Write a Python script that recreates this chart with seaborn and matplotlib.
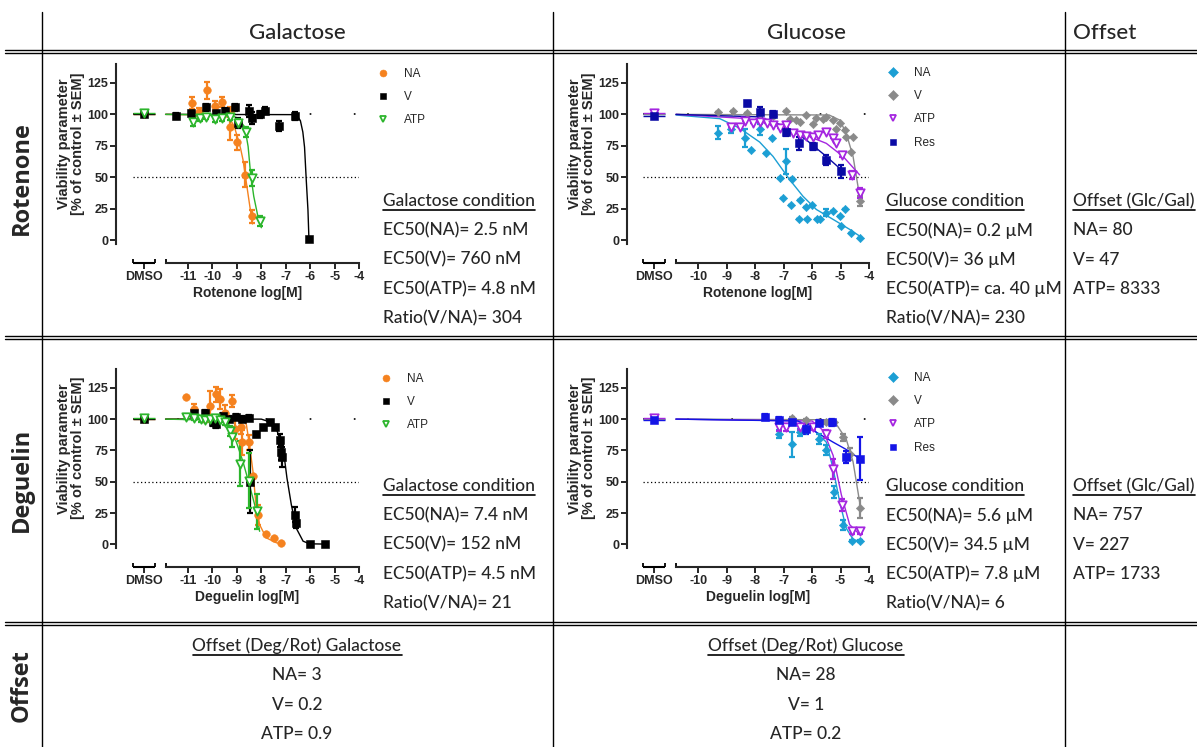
import matplotlib
matplotlib.use("Agg")
import matplotlib.pyplot as plt
from matplotlib.lines import Line2D
import seaborn as sns

W, H = 1197, 747

# ---------------- data ----------------
# Galactose / Rotenone
gr_na_x = [-10.82, -10.55, -10.22, -9.88, -9.6, -9.3, -9.3, -8.98, -8.65, -8.4]
gr_na_y = [109, 102, 119, 107, 110, 103, 90, 78, 52, 19]
gr_na_err = [5, 3, 7, 4, 4, 3, 10, 6, 10, 5]
gr_na_fit_x = [-11.92, -9.6, -9.3, -9.1, -8.98, -8.85, -8.75, -8.61, -8.47, -8.36]
gr_na_fit_y = [100, 99.5, 97, 90, 82, 73, 64, 45.5, 27, 13]
gr_v_x = [-11.5, -10.86, -10.28, -9.84, -9.5, -9.09, -8.95, -8.5, -8.4, -8.07, -7.86, -7.28, -6.63, -6.05]
gr_v_y = [98.7, 101, 105.5, 101, 103, 105.5, 93, 102.6, 97, 100, 103, 91, 98.7, 0.8]
gr_v_err = [2, 2, 3, 2, 2, 3, 4, 5, 5, 3, 3, 4, 3, 0]
gr_v_fit_x = [-11.92, -6.7, -6.5, -6.4, -6.3, -6.23, -6.16, -6.09, -6.05]
gr_v_fit_y = [100, 99.8, 98, 95, 86, 74, 48, 24, 1]
gr_atp_x = [-10.8, -10.52, -10.25, -9.91, -9.6, -9.3, -8.95, -8.64, -8.37, -8.07]
gr_atp_y = [94, 97, 98, 96, 97, 97.6, 93, 86, 49.5, 15]
gr_atp_err = [3, 2, 2, 2, 2, 2, 3, 4, 6, 4]
gr_atp_fit_x = [-11.92, -9.3, -8.95, -8.68, -8.54, -8.44, -8.31, -8.14, -8.0]
gr_atp_fit_y = [100, 99.5, 97, 90, 74.5, 53, 35, 19, 10]

# Glucose / Rotenone
cr_na_x = [-9.3, -8.83, -8.34, -8.13, -7.84, -7.63, -7.39, -7.13, -7.02, -6.9, -6.73, -6.69, -6.46,
           -6.43, -6.2, -6.17, -5.99, -5.82, -5.73, -5.52, -5.26, -5.03, -4.97, -4.85, -4.62, -4.33]
cr_na_y = [85.5, 88, 81, 72, 88, 69, 81.5, 49.5, 33.7, 62.6, 28.4, 48.7, 17,
           32, 26.6, 17, 28.4, 17, 17, 22, 23, 19.7, 11.3, 25, 6, 2]
cr_na_err = [5, 3, 7, 0, 4, 0, 0, 0, 0, 10, 0, 0, 0,
             0, 0, 0, 0, 0, 0, 3, 0, 0, 0, 0, 0, 0]
cr_na_fit_x = [-10.78, -9.24, -8.54, -7.84, -7.37, -6.78, -6.32, -5.85, -5.26, -4.68, -4.33]
cr_na_fit_y = [99.5, 96.6, 89, 78, 66.6, 48, 35, 24.5, 16.6, 8.7, 3.4]
cr_v_x = [-9.3, -8.77, -8.3, -7.84, -7.37, -6.9, -6.78, -6.55, -6.43, -6.2, -5.96, -5.85, -5.61,
          -5.5, -5.26, -5.15, -5.03, -4.85, -4.8, -4.62, -4.56, -4.33]
cr_v_y = [102, 103, 101, 100, 98.7, 103, 96, 95.5, 94, 99.5, 92, 97, 96,
          98, 95.5, 88, 93, 87.6, 82, 70.5, 82, 31]
cr_v_err = [0] * 21 + [4]
cr_v_fit_x = [-10.78, -5.4, -5.03, -4.8, -4.56, -4.33]
cr_v_fit_y = [100, 99.5, 95.5, 85, 66.6, 35]
cr_atp_x = [-8.83, -8.54, -8.34, -8.07, -7.84, -7.6, -7.37, -7.13, -6.9, -6.67, -6.43, -6.2, -5.96,
            -5.79, -5.5, -5.26, -5.15, -4.94, -4.58, -4.33]
cr_atp_y = [90, 90, 95, 93, 94, 93.4, 91.6, 89, 91.6, 85, 83.7, 83, 82,
            83.7, 86, 81, 77, 68, 52, 37.6]
cr_atp_err = [0] * 17 + [2, 3, 4]
cr_atp_fit_x = [-10.78, -8.5, -7.84, -6.67, -5.5, -4.91, -4.33]
cr_atp_fit_y = [100, 97, 94, 87.6, 77, 66.6, 52]
cr_res_x = [-8.3, -7.84, -7.37, -6.9, -6.46, -5.96, -5.5, -4.97]
cr_res_y = [108.7, 102, 100, 86, 77, 74.5, 64, 54.7]
cr_res_err = [2, 4, 3, 3, 5, 3, 4, 5]
cr_res_fit_x = [-10.78, -7.84, -6.9, -6.2, -5.5, -4.97]
cr_res_fit_y = [100, 98, 90, 79.7, 66.6, 56]

# Galactose / Deguelin
gd_na_x = [-11.1, -10.77, -10.32, -10.11, -9.84, -9.68, -9.5, -9.19, -9.09, -8.82, -8.78, -8.5,
           -8.34, -8.14, -7.82, -7.49, -7.18]
gd_na_y = [118, 108.4, 100, 110.5, 120, 116, 105, 114.5, 92, 93.4, 81.6, 81.6,
           55, 23.7, 8.4, 5.3, 1.3]
gd_na_err = [0, 4, 0, 12, 6, 8, 6, 5, 8, 5, 10, 6, 0, 8, 0, 0, 0]
gd_na_fit_x = [-11.92, -8.75, -8.61, -8.48, -8.34, -8.23, -8.07, -7.8, -7.38, -7.1]
gd_na_fit_y = [100, 99.5, 95.5, 79, 58, 34, 15.8, 5.3, 1.3, 0.5]
gd_v_x = [-10.77, -10.32, -9.98, -9.84, -9.57, -9.32, -9.02, -8.78, -8.5, -8.48, -8.2, -7.93,
          -7.66, -7.45, -7.25, -7.18, -7.14, -6.63, -6.59, -6.02, -5.41]
gd_v_y = [104.7, 105, 97.4, 96, 102.6, 100.5, 102, 100.5, 101, 50, 88, 93.4,
          97.4, 93.4, 83, 73.7, 70, 23.7, 17, 0.5, 0.5]
gd_v_err = [2, 2, 3, 3, 2, 2, 2, 2, 2, 25, 2, 2, 2, 2, 5, 6, 8, 6, 4, 0, 0]
gd_v_fit_x = [-11.92, -8.0, -7.8, -7.38, -7.1, -6.95, -6.77, -6.57, -6.29, -6.02, -5.41]
gd_v_fit_y = [100, 100, 98.7, 92, 76, 53, 31.6, 13, 2.6, 0.5, 0.3]
gd_atp_x = [-11.1, -10.77, -10.45, -10.32, -10.11, -9.88, -9.7, -9.5, -9.3, -9.19, -8.88, -8.5, -8.18]
gd_atp_y = [102, 101, 100, 99.5, 100, 101, 99.5, 97.4, 90.8, 85.5, 64.5, 51, 26.3]
gd_atp_err = [2, 2, 2, 2, 2, 2, 2, 2, 4, 8, 18, 22, 14]
gd_atp_fit_x = [-11.92, -9.5, -9.3, -9.02, -8.75, -8.48, -8.27, -8.14, -8.07]
gd_atp_fit_y = [100, 99, 95, 81.6, 66, 47, 31.6, 18.4, 10.5]

# Glucose / Deguelin
cd_na_x = [-7.17, -6.7, -6.43, -6.22, -5.77, -5.5, -5.23, -4.92, -4.58, -4.33]
cd_na_y = [88, 80, 89.5, 91, 84, 75, 42, 15.8, 2.6, 2.6]
cd_na_err = [3, 10, 3, 2, 4, 4, 5, 4, 1, 1]
cd_na_fit_x = [-10.78, -6.5, -5.96, -5.5, -5.26, -5.03, -4.8, -4.56, -4.33]
cd_na_fit_y = [100, 99, 92, 81.6, 60.5, 34, 13, 4, 2.6]
cd_v_x = [-6.7, -6.22, -5.77, -5.5, -5.23, -4.92, -4.68, -4.33]
cd_v_y = [101, 99.5, 98, 97.4, 97.4, 85.5, 72, 29]
cd_v_err = [1, 1, 1, 1, 1, 3, 5, 8]
cd_v_fit_x = [-10.78, -5.4, -5.15, -4.8, -4.56, -4.33]
cd_v_fit_y = [100, 99.5, 96, 84, 66, 34]
cd_atp_x = [-7.17, -6.9, -6.43, -5.96, -5.52, -5.26, -4.94, -4.58, -4.33]
cd_atp_y = [93.4, 93.4, 93.4, 93.4, 88, 60.5, 31.6, 10.5, 10.5]
cd_atp_err = [3, 3, 2, 2, 3, 8, 5, 2, 2]
cd_atp_fit_x = [-10.78, -6.0, -5.61, -5.26, -4.97, -4.68, -4.33]
cd_atp_fit_y = [100, 98.5, 91, 71, 39.5, 15.8, 8]
cd_res_x = [-7.64, -7.17, -6.7, -6.22, -5.77, -5.29, -4.8, -4.33]
cd_res_y = [102, 99.5, 98, 92, 97, 97.4, 69.7, 68.4]
cd_res_err = [2, 2, 3, 4, 2, 3, 5, 17]
cd_res_fit_x = [-10.78, -6.5, -5.96, -5.26, -4.8, -4.33]
cd_res_fit_y = [100, 98.5, 91, 81.6, 75.8, 68.4]

dmso_gal = [100, 100, 101]          # NA, V, ATP
dmso_glc = [100, 100, 101, 99]      # NA, V, ATP, Res

col_headers = ["Galactose", "Glucose", "Offset"]
row_headers = ["Rotenone", "Deguelin", "Offset"]

gal_rot_text = ["Galactose condition", "EC50(NA)= 2.5 nM", "EC50(V)= 760 nM",
                "EC50(ATP)= 4.8 nM", "Ratio(V/NA)= 304"]
glc_rot_text = ["Glucose condition", "EC50(NA)= 0.2 µM", "EC50(V)= 36 µM",
                "EC50(ATP)= ca. 40 µM", "Ratio(V/NA)= 230"]
off_rot_text = ["Offset (Glc/Gal)", "NA= 80", "V= 47", "ATP= 8333"]
gal_deg_text = ["Galactose condition", "EC50(NA)= 7.4 nM", "EC50(V)= 152 nM",
                "EC50(ATP)= 4.5 nM", "Ratio(V/NA)= 21"]
glc_deg_text = ["Glucose condition", "EC50(NA)= 5.6 µM", "EC50(V)= 34.5 µM",
                "EC50(ATP)= 7.8 µM", "Ratio(V/NA)= 6"]
off_deg_text = ["Offset (Glc/Gal)", "NA= 757", "V= 227", "ATP= 1733"]
off_gal_text = ["Offset (Deg/Rot) Galactose", "NA= 3", "V= 0.2", "ATP= 0.9"]
off_glc_text = ["Offset (Deg/Rot) Glucose", "NA= 28", "V= 1", "ATP= 0.2"]

# ---------------- styling ----------------
sns.set_theme(style="ticks")
plt.rcParams["font.family"] = ["Liberation Sans", "DejaVu Sans"]

ORANGE, BLACK, GREEN = "#f5821f", "#000000", "#2cb52c"
LBLUE, GREY, PURPLE = "#1c9fd4", "#8a8a8a", "#a526e0"
NAVY_TOP, BLUE_BOT = "#0a0aa5", "#1414e6"

TXT_FONT = ["Lato", "DejaVu Sans"]

fig = plt.figure(figsize=(W / 100, H / 100), dpi=100)


def rect(l, t, r, b):
    return [l / W, 1 - b / H, (r - l) / W, (b - t) / H]


def fline(xs, ys, lw=1.0):
    fig.add_artist(Line2D([x / W for x in xs], [1 - y / H for y in ys],
                          color="black", lw=lw, transform=fig.transFigure))


def series(x, y, err, fx, fy, dmso, color, marker, label, open_marker=False, size=30):
    return dict(x=x, y=y, err=err, fx=fx, fy=fy, dmso=dmso, color=color,
                marker=marker, label=label, open=open_marker, size=size)


def draw_panel(box, xlim_lo, dmso_x, seg, main_lo, ticks, drug, data, leg_xy):
    ax = fig.add_axes(rect(*box))
    ax.set_xlim(xlim_lo, -4)
    ax.set_ylim(-18, 140)
    ax.hlines(50, seg[0], -4, colors="black", linestyles=(0, (1, 2)), lw=0.9, zorder=1)
    ax.hlines(100, seg[0], -4, colors="black", linestyles=(0, (1, 25.5)), lw=1.2, zorder=1)

    for s in data:
        c = s["color"]
        sns.lineplot(x=s["fx"], y=s["fy"], ax=ax, color=c, lw=1.0, sort=False,
                     estimator=None, legend=False, zorder=2)
        ax.hlines(s["dmso"], seg[0], seg[1], colors=c, lw=1.0, zorder=2)
        ax.errorbar(s["x"], s["y"], yerr=s["err"], fmt="none", ecolor=c,
                    elinewidth=1.6, capsize=2.2, capthick=1.6, zorder=3)
        face = "white" if s["open"] else c
        sns.scatterplot(x=s["x"] + [dmso_x], y=s["y"] + [s["dmso"]], ax=ax,
                        marker=s["marker"], s=s["size"], color=face, edgecolor=c,
                        linewidth=1.3 if s["open"] else 0.4, legend=False,
                        zorder=4, clip_on=False)

    sns.despine(ax=ax)
    for sp in ("left", "bottom"):
        ax.spines[sp].set_linewidth(1.5)
    ax.spines["left"].set_bounds(-3, 140)
    ax.spines["bottom"].set_bounds(main_lo, -4)
    ax.plot(seg, [-18, -18], color="black", lw=1.5, clip_on=False, solid_capstyle="butt")
    ax.vlines([seg[0], seg[1], main_lo], -18, -14.5, colors="black", lw=1.3, clip_on=False)

    ax.set_yticks([0, 25, 50, 75, 100, 125])
    ax.set_xticks([dmso_x] + ticks)
    ax.set_xticklabels(["DMSO"] + [str(t) for t in ticks])
    ax.tick_params(axis="both", length=4, width=1.4, pad=1.5, labelsize=9)
    for lab in ax.get_xticklabels() + ax.get_yticklabels():
        lab.set_fontweight("bold")

    ax.set_xlabel(f"{drug} log[M]", fontsize=10, fontweight="bold")
    ax.xaxis.set_label_coords(0.54, -0.115)
    ax.set_ylabel("Viability parameter\n[% of control ± SEM]", fontsize=10.5,
                  fontweight="bold", linespacing=1.0)
    ax.yaxis.set_label_coords(-0.128, 0.6)

    handles = [Line2D([], [], ls="none", marker=s["marker"], color=s["color"],
                      markerfacecolor="white" if s["open"] else s["color"],
                      markeredgewidth=1.3 if s["open"] else 0.4, markersize=5)
               for s in data]
    ax.legend(handles, [s["label"] for s in data], loc="upper left",
              bbox_to_anchor=(leg_xy[0] / W, 1 - leg_xy[1] / H),
              bbox_transform=fig.transFigure, frameon=False, borderpad=0,
              borderaxespad=0, handlelength=1.0, handletextpad=1.3,
              labelspacing=0.95, fontsize=8.5)
    return ax


gal_geo = dict(xlim_lo=-13.95, dmso_x=-12.8, seg=[-13.27, -12.35], main_lo=-11.92,
               ticks=[-11, -10, -9, -8, -7, -6, -5, -4])
glc_geo = dict(xlim_lo=-12.5, dmso_x=-11.54, seg=[-11.94, -11.16], main_lo=-10.78,
               ticks=[-10, -9, -8, -7, -6, -5, -4])

draw_panel((116, 64, 359, 263), drug="Rotenone", leg_xy=(377, 68), data=[
    series(gr_na_x, gr_na_y, gr_na_err, gr_na_fit_x, gr_na_fit_y, dmso_gal[0], ORANGE, "o", "NA"),
    series(gr_v_x, gr_v_y, gr_v_err, gr_v_fit_x, gr_v_fit_y, dmso_gal[1], BLACK, "s", "V"),
    series(gr_atp_x, gr_atp_y, gr_atp_err, gr_atp_fit_x, gr_atp_fit_y, dmso_gal[2], GREEN, "v", "ATP", True, 36),
], **gal_geo)

draw_panel((627, 64, 869, 263), drug="Rotenone", leg_xy=(887, 67), data=[
    series(cr_na_x, cr_na_y, cr_na_err, cr_na_fit_x, cr_na_fit_y, dmso_glc[0], LBLUE, "D", "NA", size=18),
    series(cr_v_x, cr_v_y, cr_v_err, cr_v_fit_x, cr_v_fit_y, dmso_glc[1], GREY, "D", "V", size=18),
    series(cr_atp_x, cr_atp_y, cr_atp_err, cr_atp_fit_x, cr_atp_fit_y, dmso_glc[2], PURPLE, "v", "ATP", True, 36),
    series(cr_res_x, cr_res_y, cr_res_err, cr_res_fit_x, cr_res_fit_y, dmso_glc[3], NAVY_TOP, "s", "Res"),
], **glc_geo)

draw_panel((116, 369, 359, 567), drug="Deguelin", leg_xy=(380, 373), data=[
    series(gd_na_x, gd_na_y, gd_na_err, gd_na_fit_x, gd_na_fit_y, dmso_gal[0], ORANGE, "o", "NA"),
    series(gd_v_x, gd_v_y, gd_v_err, gd_v_fit_x, gd_v_fit_y, dmso_gal[1], BLACK, "s", "V"),
    series(gd_atp_x, gd_atp_y, gd_atp_err, gd_atp_fit_x, gd_atp_fit_y, dmso_gal[2], GREEN, "v", "ATP", True, 36),
], **gal_geo)

draw_panel((627, 369, 869, 567), drug="Deguelin", leg_xy=(887, 372), data=[
    series(cd_na_x, cd_na_y, cd_na_err, cd_na_fit_x, cd_na_fit_y, dmso_glc[0], LBLUE, "D", "NA", size=18),
    series(cd_v_x, cd_v_y, cd_v_err, cd_v_fit_x, cd_v_fit_y, dmso_glc[1], GREY, "D", "V", size=18),
    series(cd_atp_x, cd_atp_y, cd_atp_err, cd_atp_fit_x, cd_atp_fit_y, dmso_glc[2], PURPLE, "v", "ATP", True, 36),
    series(cd_res_x, cd_res_y, cd_res_err, cd_res_fit_x, cd_res_fit_y, dmso_glc[3], BLUE_BOT, "s", "Res"),
], **glc_geo)

# ---------------- table grid ----------------
for y in (50, 336, 622):
    fline([5, W], [y, y], lw=1.0)
    fline([5, W], [y + 3, y + 3], lw=1.0)
for x in (42, 553, 1065):
    fline([x, x], [12, H], lw=1.0)

# headers
fig.text(297 / W, 1 - 33 / H, col_headers[0], ha="center", va="center", fontsize=16,
         family=TXT_FONT, fontweight="medium")
fig.text(807 / W, 1 - 33 / H, col_headers[1], ha="center", va="center", fontsize=16,
         family=TXT_FONT, fontweight="medium")
fig.text(1073 / W, 1 - 33 / H, col_headers[2], ha="left", va="center", fontsize=16,
         family=TXT_FONT, fontweight="medium")
for lab, yc in zip(row_headers, (178, 480, 686)):
    fig.text(22 / W, 1 - yc / H, lab, rotation=90, ha="center", va="center",
             fontsize=17, fontweight="bold", family=["Open Sans", "DejaVu Sans"])

# text blocks
underline = []


def block(x, y0, lines, ha="left", step=29.3):
    for i, s in enumerate(lines):
        t = fig.text(x / W, 1 - (y0 + i * step) / H, s, ha=ha, va="center",
                     fontsize=12.5, family=TXT_FONT, fontweight="medium")
        if i == 0:
            underline.append(t)


block(383, 201, gal_rot_text)
block(886, 201, glc_rot_text)
block(1073, 201, off_rot_text)
block(383, 486, gal_deg_text)
block(886, 486, glc_deg_text)
block(1073, 486, off_deg_text)
block(297, 646, off_gal_text, ha="center")
block(806, 646, off_glc_text, ha="center")

fig.canvas.draw()
for t in underline:
    bb = t.get_window_extent()
    fline([bb.x0, bb.x1], [H - bb.y0 + 1, H - bb.y0 + 1], lw=1.2)

fig.savefig("out.png", dpi=100)
